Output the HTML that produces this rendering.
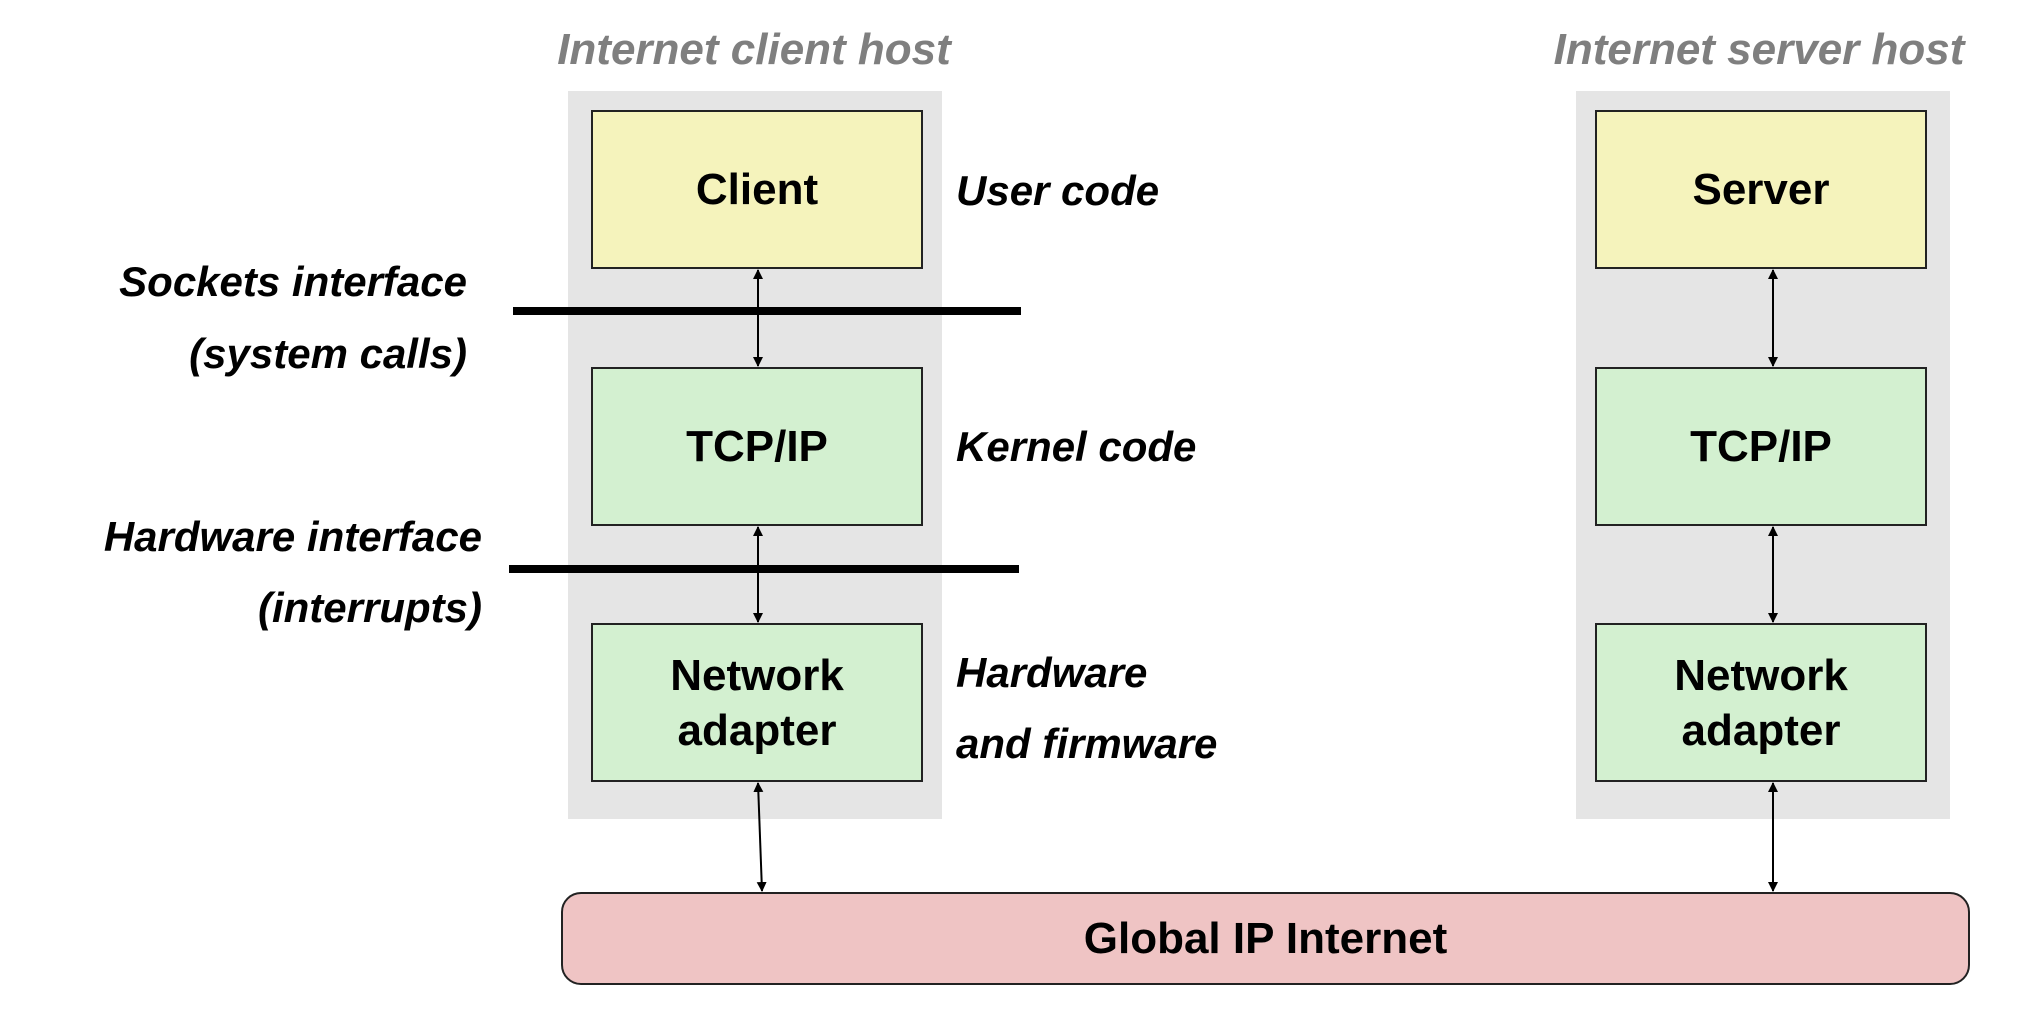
<!DOCTYPE html>
<html><head><style>
body{margin:0;width:2032px;height:1022px;background:#fff;position:relative;overflow:hidden;font-family:"Liberation Sans",sans-serif;font-weight:bold}
.a{position:absolute}
.panel{background:#e5e5e5}
.box{position:absolute;border:2.5px solid #222;box-sizing:border-box;display:flex;align-items:center;justify-content:center;text-align:center;font-size:44px;line-height:1.25;color:#000}
.y{background:#f5f3bc}.g{background:#d3f0d0}
.t{position:absolute;font-style:italic;font-size:42px;color:#000;white-space:nowrap}
.h{position:absolute;font-style:italic;font-size:44px;color:#7f7f7f;white-space:nowrap;transform:translateX(-50%)}
.bar{position:absolute;background:#000;height:8px}
</style></head><body>
<div class="h" style="left:754px;top:25px">Internet client host</div>
<div class="h" style="left:1759px;top:25px">Internet server host</div>
<div class="a panel" style="left:568px;top:91px;width:374px;height:728px"></div>
<div class="a panel" style="left:1576px;top:91px;width:374px;height:728px"></div>
<div class="box y" style="left:591px;top:110px;width:332px;height:159px">Client</div>
<div class="box g" style="left:591px;top:367px;width:332px;height:159px">TCP/IP</div>
<div class="box g" style="left:591px;top:623px;width:332px;height:159px">Network<br>adapter</div>
<div class="box y" style="left:1595px;top:110px;width:332px;height:159px">Server</div>
<div class="box g" style="left:1595px;top:367px;width:332px;height:159px">TCP/IP</div>
<div class="box g" style="left:1595px;top:623px;width:332px;height:159px">Network<br>adapter</div>
<div class="box" style="left:561px;top:892px;width:1409px;height:93px;border-radius:20px;background:#efc4c4">Global IP Internet</div>
<div class="bar" style="left:513px;top:307px;width:508px"></div>
<div class="bar" style="left:509px;top:565px;width:510px"></div>
<div class="t" style="right:1565px;top:258px">Sockets interface</div>
<div class="t" style="right:1565px;top:330px">(system calls)</div>
<div class="t" style="right:1550px;top:513px">Hardware interface</div>
<div class="t" style="right:1550px;top:584px">(interrupts)</div>
<div class="t" style="left:956px;top:167px">User code</div>
<div class="t" style="left:956px;top:423px">Kernel code</div>
<div class="t" style="left:956px;top:649px">Hardware</div>
<div class="t" style="left:956px;top:720px">and firmware</div>
<svg class="a" style="left:0;top:0" width="2032" height="1022">
<defs><marker id="m" markerWidth="10" markerHeight="10" refX="9" refY="5" orient="auto-start-reverse" markerUnits="userSpaceOnUse"><path d="M0,0 L10,5 L0,10 z" fill="#000"/></marker></defs>
<g stroke="#000" stroke-width="2" marker-start="url(#m)" marker-end="url(#m)">
<line x1="758" y1="270" x2="758" y2="366"/>
<line x1="758" y1="527" x2="758" y2="622"/>
<line x1="758" y1="783" x2="762" y2="891"/>
<line x1="1773" y1="270" x2="1773" y2="366"/>
<line x1="1773" y1="527" x2="1773" y2="622"/>
<line x1="1773" y1="783" x2="1773" y2="891"/>
</g></svg>
</body></html>
